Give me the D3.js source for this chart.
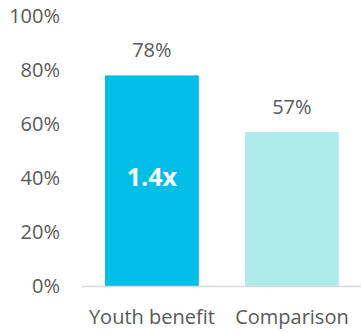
<!DOCTYPE html>
<html><head><meta charset="utf-8">
<script src="https://cdn.jsdelivr.net/npm/d3@7"></script>
<style>body{margin:0;background:#fff}svg{display:block}text{font-family:"Open Sans",sans-serif}</style>
</head><body>
<script>
const categories = ["Youth benefit", "Comparison"];
const values = [78, 57];
const barColors = ["#00BFE7", "#AEEBEB"];
const tickValues = [0, 20, 40, 60, 80, 100];
const insideLabel = "1.4x";

const W = 361, H = 333;
const svg = d3.select("body").append("svg").attr("width", W).attr("height", H);
const y = d3.scaleLinear().domain([0, 100]).range([286, 16]);
const x = d3.scaleBand().domain(categories).range([77, 366.8]).paddingInner(0.33).paddingOuter(0.2);

const yAxis = svg.append("g").attr("transform", "translate(60,0)")
  .call(d3.axisLeft(y).tickValues(tickValues).tickFormat(d => d + "%").tickSize(0).tickPadding(0));
yAxis.select(".domain").remove();
yAxis.selectAll("text").attr("font-size", 20).attr("fill", "#595959").attr("font-family", "Open Sans").attr("dy", "0.34em");

svg.selectAll("rect.bar").data(values).join("rect").attr("class", "bar")
  .attr("x", (d, i) => x(categories[i])).attr("width", x.bandwidth())
  .attr("y", d => y(d)).attr("height", d => y(0) - y(d))
  .attr("fill", (d, i) => barColors[i]);

svg.append("line").attr("x1", 82).attr("x2", 361).attr("y1", y(0) + 0.5).attr("y2", y(0) + 0.5)
  .attr("stroke", "#D9D9D9").attr("stroke-width", 1.5);

svg.selectAll("text.val").data(values).join("text").attr("class", "val")
  .attr("x", (d, i) => x(categories[i]) + x.bandwidth() / 2).attr("y", d => y(d) - 18)
  .attr("text-anchor", "middle").attr("font-size", 20).attr("fill", "#595959").text(d => d + "%");

const xAxis = svg.append("g").attr("transform", `translate(0,${y(0)})`)
  .call(d3.axisBottom(x).tickSize(0).tickPadding(0));
xAxis.select(".domain").remove();
xAxis.selectAll("text").attr("font-size", 20).attr("fill", "#595959").attr("font-family", "Open Sans").attr("dy", 0).attr("y", 38);

svg.append("text").attr("x", x(categories[0]) + x.bandwidth() / 2).attr("y", 186)
  .attr("text-anchor", "middle").attr("font-size", 25).attr("font-weight", "bold").attr("fill", "#fff").text(insideLabel);
</script>
</body></html>
